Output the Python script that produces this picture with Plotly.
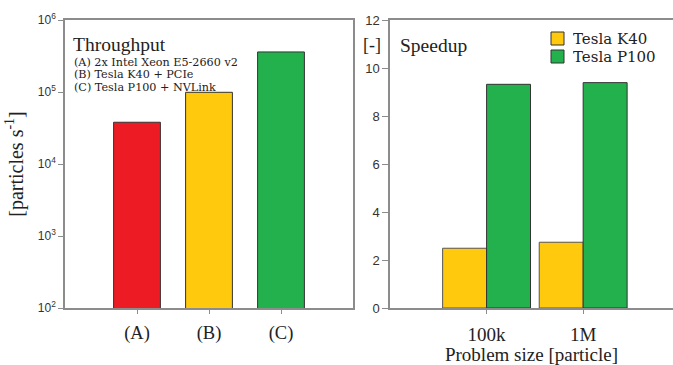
import plotly.graph_objects as go

# Throughput panel data
tp_categories = ["(A)", "(B)", "(C)"]
tp_values = [3.8e4, 9.9e4, 3.6e5]
tp_colors = ["#ED1C24", "#FFC90E", "#22B14C"]
tp_tickvals = [1e2, 1e3, 1e4, 1e5, 1e6]
tp_ticktext = ["10<sup>2</sup>", "10<sup>3</sup>", "10<sup>4</sup>", "10<sup>5</sup>", "10<sup>6</sup>"]
tp_notes = ["(A) 2x Intel Xeon E5-2660 v2", "(B) Tesla K40 + PCIe", "(C) Tesla P100 + NVLink"]

# Speedup panel data
sp_categories = ["100k", "1M"]
sp_series = ["Tesla K40", "Tesla P100"]
sp_k40 = [2.49, 2.74]
sp_p100 = [9.32, 9.39]

SERIF = "Liberation Serif"
SERIF_W = "DejaVu Serif"
SANS = "Liberation Sans"
W, H = 673, 365
T, B = 20, 57
PH = H - T - B
TXT = "#222222"
YEL, GRN = "#FFC90E", "#22B14C"


def py(ypix):
    return (H - B - ypix) / PH


fig = go.Figure()

fig.add_trace(go.Bar(
    x=list(range(len(tp_categories))), y=tp_values,
    marker=dict(color=tp_colors, line=dict(color="#333333", width=1)),
    width=0.65, xaxis="x", yaxis="y", showlegend=False,
))

fig.add_trace(go.Bar(
    x=list(range(len(sp_categories))), y=sp_k40, name=sp_series[0],
    marker=dict(color=YEL, line=dict(color="#555555", width=1)),
    xaxis="x2", yaxis="y2", offsetgroup="k40", showlegend=False,
))
fig.add_trace(go.Bar(
    x=list(range(len(sp_categories))), y=sp_p100, name=sp_series[1],
    marker=dict(color=GRN, line=dict(color="#333333", width=1)),
    xaxis="x2", yaxis="y2", offsetgroup="p100", showlegend=False,
))

axcol = "#8c8c8c"
annotations = [
    dict(text="Throughput", x=71 / W, y=py(44), xref="paper", yref="paper",
         xanchor="left", yanchor="middle", showarrow=False,
         font=dict(family=SERIF, size=19.5, color=TXT)),
    dict(text="Speedup", x=398 / W, y=py(45), xref="paper", yref="paper",
         xanchor="left", yanchor="middle", showarrow=False,
         font=dict(family=SERIF, size=19.5, color=TXT)),
    dict(text="[-]", x=372 / W, y=py(45), xref="paper", yref="paper",
         xanchor="center", yanchor="middle", showarrow=False,
         font=dict(family=SERIF, size=18, color=TXT)),
]
for i, line in enumerate(tp_notes):
    annotations.append(dict(text=line, x=72 / W, y=py(61.5 + 12.5 * i), xref="paper", yref="paper",
                            xanchor="left", yanchor="middle", showarrow=False, height=12,
                            font=dict(family=SERIF_W, size=11.2, color=TXT)))

# manual legend (tight row spacing as in the reference)
shapes = []
for i, (name, col) in enumerate(zip(sp_series, [YEL, GRN])):
    yc = 38.5 + 18 * i
    shapes.append(dict(type="rect", xref="paper", yref="paper",
                       x0=551 / W, x1=564 / W, y0=py(yc + 6.5), y1=py(yc - 6.5),
                       fillcolor=col, line=dict(color="#333333", width=1)))
    annotations.append(dict(text=name, x=571 / W, y=py(yc), xref="paper", yref="paper",
                            xanchor="left", yanchor="middle", showarrow=False, height=17,
                            font=dict(family=SERIF_W, size=15, color=TXT)))

fig.update_layout(
    width=W, height=H,
    margin=dict(l=0, r=0, t=T, b=B, autoexpand=False),
    plot_bgcolor="white", paper_bgcolor="white",
    barmode="group", bargap=0.09, showlegend=False,
    font=dict(family=SERIF, color=TXT),
    xaxis=dict(domain=[65 / W, 353 / W], range=[-1, 3],
               tickvals=[0, 1, 2], ticktext=tp_categories,
               tickfont=dict(family=SERIF, size=18.5, color=TXT),
               showline=True, linecolor=axcol, linewidth=1.5, mirror=True,
               ticks="outside", ticklen=4, tickcolor=axcol, ticklabelstandoff=3,
               showgrid=False, zeroline=False, fixedrange=True),
    yaxis=dict(type="log", range=[2, 6], tickvals=tp_tickvals, ticktext=tp_ticktext,
               tickfont=dict(family=SANS, size=12, color="#333333"),
               showline=True, linecolor=axcol, linewidth=1.5, mirror=True,
               ticks="outside", ticklen=5, tickcolor=axcol,
               showgrid=False, zeroline=False,
               title=dict(text="[particles s<sup>-1</sup>]", font=dict(family=SERIF, size=20, color=TXT), standoff=9)),
    xaxis2=dict(domain=[390 / W, 1.0], range=[-1, 1.93],
                tickvals=[0, 1], ticktext=sp_categories,
                tickfont=dict(family=SERIF, size=19, color=TXT),
                showline=True, linecolor=axcol, linewidth=1.5, mirror=True,
                ticks="outside", ticklen=4, tickcolor=axcol, ticklabelstandoff=4,
                showgrid=False, zeroline=False,
                title=dict(text="Problem size [particle]", font=dict(family=SERIF, size=19, color=TXT), standoff=3),
                anchor="y2"),
    yaxis2=dict(domain=[0, 1], range=[0, 12], tickvals=[0, 2, 4, 6, 8, 10, 12],
                tickfont=dict(family=SANS, size=13, color="#333333"),
                showline=True, linecolor=axcol, linewidth=1.5,
                ticks="outside", ticklen=6, tickcolor=axcol,
                showgrid=False, zeroline=False, anchor="x2"),
    annotations=annotations,
    shapes=shapes,
)

fig.write_html("out.html", config={"displayModeBar": False},
               post_script="document.body.style.margin='0';document.body.style.overflow='hidden';")
